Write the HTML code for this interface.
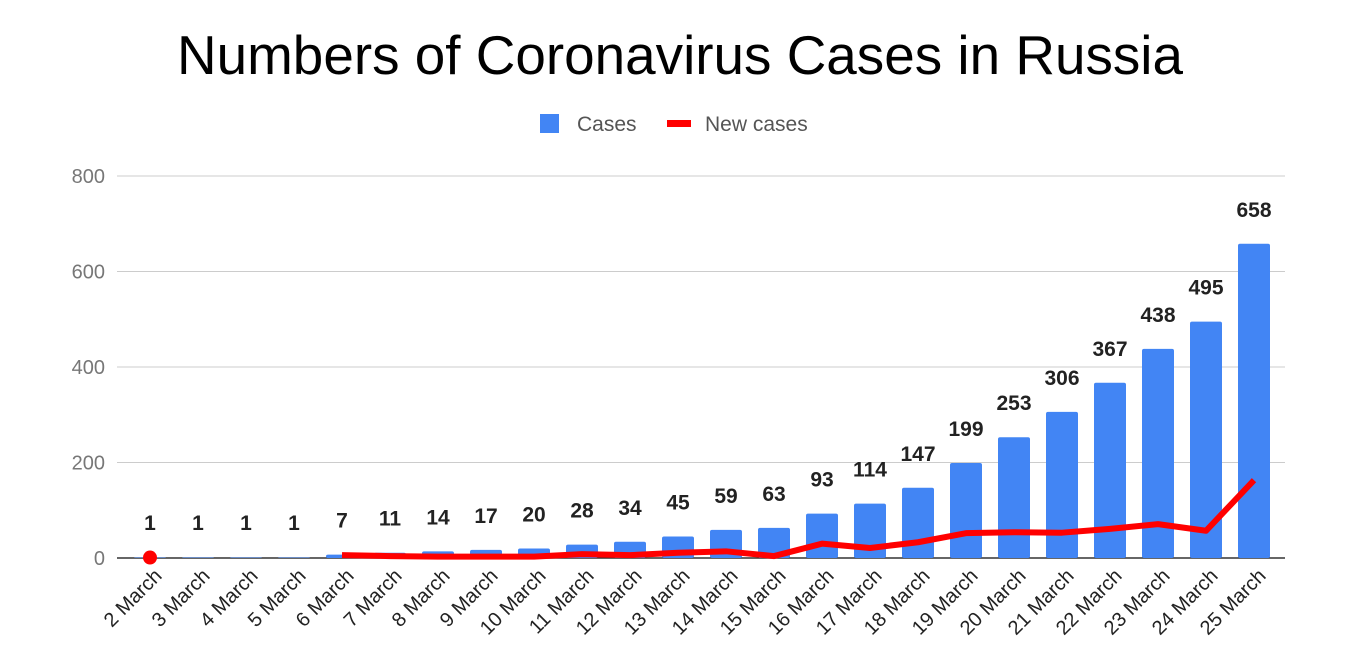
<!DOCTYPE html>
<html><head><meta charset="utf-8"><style>
html,body{margin:0;padding:0;background:#fff;}
svg{display:block;font-family:"Liberation Sans",Arial,sans-serif;}
</style></head><body>
<svg id="chart" width="1360" height="671">
<text x="680" y="74" text-anchor="middle" font-size="55" fill="#000" textLength="1006" lengthAdjust="spacingAndGlyphs">Numbers of Coronavirus Cases in Russia</text>
<g>
<rect x="540" y="114" width="19" height="19" fill="#4285f4"/>
<text x="577" y="131" font-size="21" fill="#555">Cases</text>
<rect x="667" y="120" width="24" height="7" fill="#f00"/>
<text x="705" y="131" font-size="21" fill="#555">New cases</text>
</g>
<g id="grid"></g><g id="bars"></g><g id="line"></g><g id="labels"></g>
</svg>
<script>
const categories=["2 March","3 March","4 March","5 March","6 March","7 March","8 March","9 March","10 March","11 March","12 March","13 March","14 March","15 March","16 March","17 March","18 March","19 March","20 March","21 March","22 March","23 March","24 March","25 March"];
const cases=[1,1,1,1,7,11,14,17,20,28,34,45,59,63,93,114,147,199,253,306,367,438,495,658];
const newCases=[1,null,null,null,6,4,3,3,3,8,6,11,14,4,30,21,33,52,54,53,61,71,57,163];
const yTicks=[0,200,400,600,800];
const NS="http://www.w3.org/2000/svg";
const x0=150,step=48,bw=32,yBase=558,yTop=176,yMax=800,plotL=117,plotR=1285;
const xs=i=>x0+i*step;
const ys=v=>yBase-(v/yMax)*(yBase-yTop);
function mk(tag,attrs,parent,text){const e=document.createElementNS(NS,tag);for(const k in attrs)e.setAttribute(k,attrs[k]);if(text!=null)e.textContent=text;parent.appendChild(e);return e;}
const grid=document.getElementById('grid'),bars=document.getElementById('bars'),line=document.getElementById('line'),labels=document.getElementById('labels');
yTicks.forEach(t=>{
 const l=mk('line',{x1:plotL,x2:plotR,y1:ys(t),y2:ys(t),stroke:t===0?'#333':'#ccc','stroke-width':t===0?1.5:1},grid);
 
 
 const tx=mk('text',{x:105,y:ys(t)+7,'text-anchor':'end','font-size':20,fill:'#777'},grid,String(t));
 
 
});
cases.forEach((v,i)=>{
 const r=mk('rect',{x:xs(i)-bw/2,y:ys(v),width:bw,height:yBase-ys(v),fill:'#4285f4',rx:2},bars);
 
 
 const t=mk('text',{x:xs(i),y:Math.min(ys(v)-27,530),'text-anchor':'middle','font-size':21,'font-weight':'bold',fill:'#222'},labels,String(v));
 
 
 const xl=mk('text',{x:0,y:0,'text-anchor':'end','font-size':20,fill:'#222',transform:`translate(${xs(i)+13},${yBase+19}) rotate(-45)`},labels,categories[i]);
 
 
});
let d='',pen=false;
newCases.forEach((v,i)=>{
 if(v==null){pen=false;return;}
 const nextNull=(i+1>=newCases.length||newCases[i+1]==null);
 if(!pen&&nextNull){
  const c=mk('circle',{cx:xs(i),cy:ys(v),r:7,fill:'#f00'},line);
  
  
  return;
 }
 d+=(pen?'L':'M')+xs(i)+','+ys(v)+' ';pen=true;
});
const p=mk('path',{d:d,fill:'none',stroke:'#f00','stroke-width':6,'stroke-linejoin':'round'},line);


</script>
</body></html>
